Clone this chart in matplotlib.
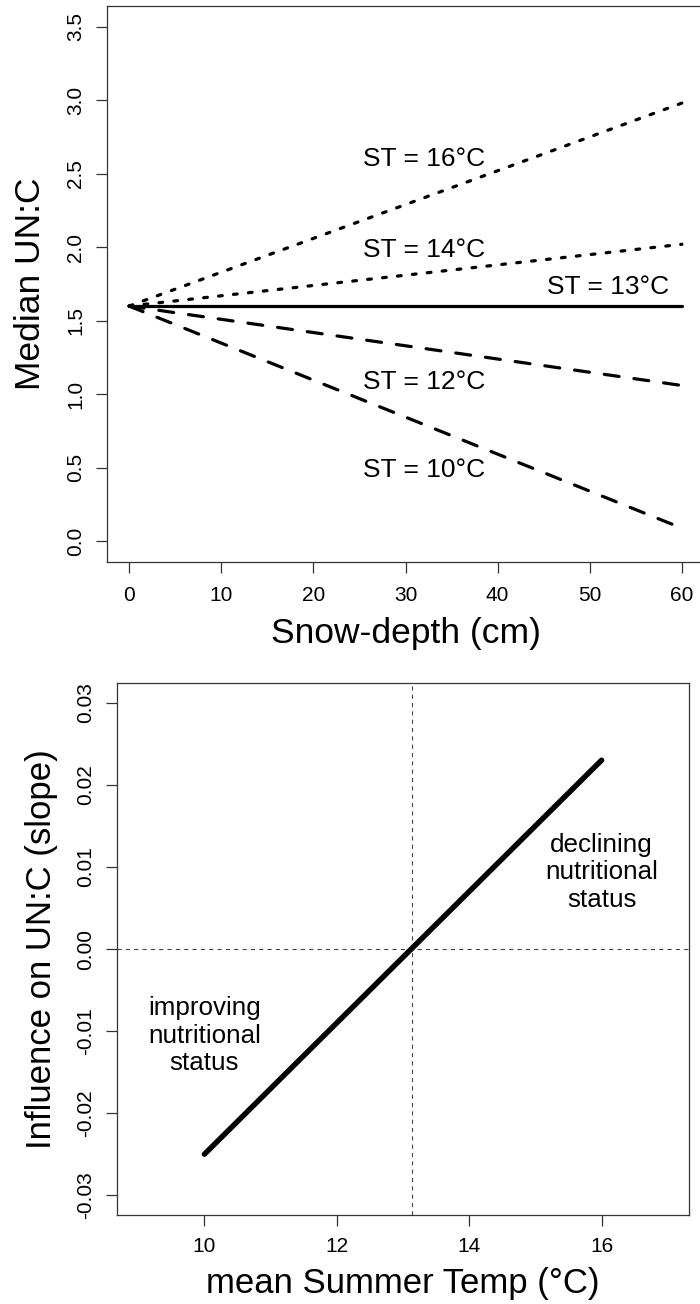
import matplotlib
matplotlib.use('Agg')
import matplotlib.pyplot as plt

plt.rcParams['font.family'] = ['Liberation Sans', 'DejaVu Sans']
plt.rcParams['axes.unicode_minus'] = False
plt.rcParams['lines.scale_dashes'] = False

# top panel: median UN:C against snow depth, one line per summer temp
snow = [0, 60]
st16 = [1.60, 2.98]
st14 = [1.60, 2.02]
st13 = [1.60, 1.60]
st12 = [1.60, 1.06]
st10 = [1.60, 0.09]
st_text = ['ST = 16°C', 'ST = 14°C', 'ST = 13°C', 'ST = 12°C', 'ST = 10°C']
st_text_x = [32, 32, 52, 32, 32]
st_text_y = [2.554, 1.934, 1.682, 1.036, 0.437]
top_xticks = [0, 10, 20, 30, 40, 50, 60]
top_yticks = [0.0, 0.5, 1.0, 1.5, 2.0, 2.5, 3.0, 3.5]

# bottom panel: slope against mean summer temperature
temp = [10, 16]
slope = [-0.025, 0.023]
temp_zero = 13.13
bot_xticks = [10, 12, 14, 16]
bot_yticks = [-0.03, -0.02, -0.01, 0.00, 0.01, 0.02, 0.03]

W, H = 700, 1304
fig = plt.figure(figsize=(W / 100, H / 100), dpi=100)

def px_axes(left, top, right, bottom):
    return fig.add_axes([left / W, 1 - bottom / H, (right - left) / W, (bottom - top) / H])

spine_col = '#333333'
dotted = (0, (2.7, 8.1))
dashed = (0, (10.8, 10.8))

def style(ax, xpad, ypad):
    for s in ax.spines.values():
        s.set_color(spine_col)
        s.set_linewidth(0.9)
    ax.tick_params(length=7.9, width=0.9, color=spine_col, labelsize=15)
    ax.tick_params(axis='x', pad=xpad)
    ax.tick_params(axis='y', pad=ypad, labelrotation=90)
    for lbl in ax.get_yticklabels():
        lbl.set_va('center')

# ---- top
ax1 = px_axes(107, 6, 704, 562)
lw = 2.3
ax1.plot(snow, st16, color='black', lw=lw, linestyle=dotted, dash_capstyle='round')
ax1.plot(snow, st14, color='black', lw=lw, linestyle=dotted, dash_capstyle='round')
ax1.plot(snow, st13, color='black', lw=lw, solid_capstyle='round')
ax1.plot(snow, st12, color='black', lw=lw, linestyle=dashed, dash_capstyle='round')
ax1.plot(snow, st10, color='black', lw=lw, linestyle=dashed, dash_capstyle='round')
for t, x, y in zip(st_text, st_text_x, st_text_y):
    ax1.text(x, y, t, ha='center', va='baseline', fontsize=19)
ax1.set_xlim(-2.4, 62.4)
ax1.set_ylim(-0.14, 3.64)
ax1.set_xticks(top_xticks)
ax1.set_xticklabels([str(v) for v in top_xticks])
ax1.set_yticks(top_yticks)
ax1.set_yticklabels(['%.1f' % v for v in top_yticks])
style(ax1, 9.5, 8)

fig.text(40 / W, 1 - 284 / H, 'Median UN:C', rotation=90, rotation_mode='anchor',
         ha='center', va='baseline', fontsize=25.5)
fig.text(406 / W, 1 - 643 / H, 'Snow-depth (cm)', ha='center', va='baseline', fontsize=25.5)

# ---- bottom
ax2 = px_axes(117, 683, 689, 1215)
ax2.axvline(temp_zero, color='#444444', lw=0.8, linestyle=(0, (3, 3)))
ax2.axhline(0, color='#444444', lw=0.8, linestyle=(0, (3, 3)))
ax2.plot(temp, slope, color='black', lw=3.9, solid_capstyle='round')
# multi-line text: baseline alignment uses the last line
ax2.text(16, 0.00509, 'declining\nnutritional\nstatus', ha='center', va='baseline',
         multialignment='center', fontsize=18.7)
ax2.text(10, -0.01479, 'improving\nnutritional\nstatus', ha='center', va='baseline',
         multialignment='center', fontsize=18.7)
ax2.set_xlim(8.68, 17.32)
ax2.set_ylim(-0.0324, 0.0324)
ax2.set_xticks(bot_xticks)
ax2.set_xticklabels([str(v) for v in bot_xticks])
ax2.set_yticks(bot_yticks)
ax2.set_yticklabels(['%.2f' % v for v in bot_yticks])
style(ax2, 8.2, 7.5)

fig.text(51 / W, 1 - 949 / H, 'Influence on UN:C (slope)', rotation=90, rotation_mode='anchor',
         ha='center', va='baseline', fontsize=25)
fig.text(403 / W, 1 - 1293 / H, 'mean Summer Temp (°C)', ha='center', va='baseline', fontsize=25)

fig.savefig('out.png', dpi=100)
